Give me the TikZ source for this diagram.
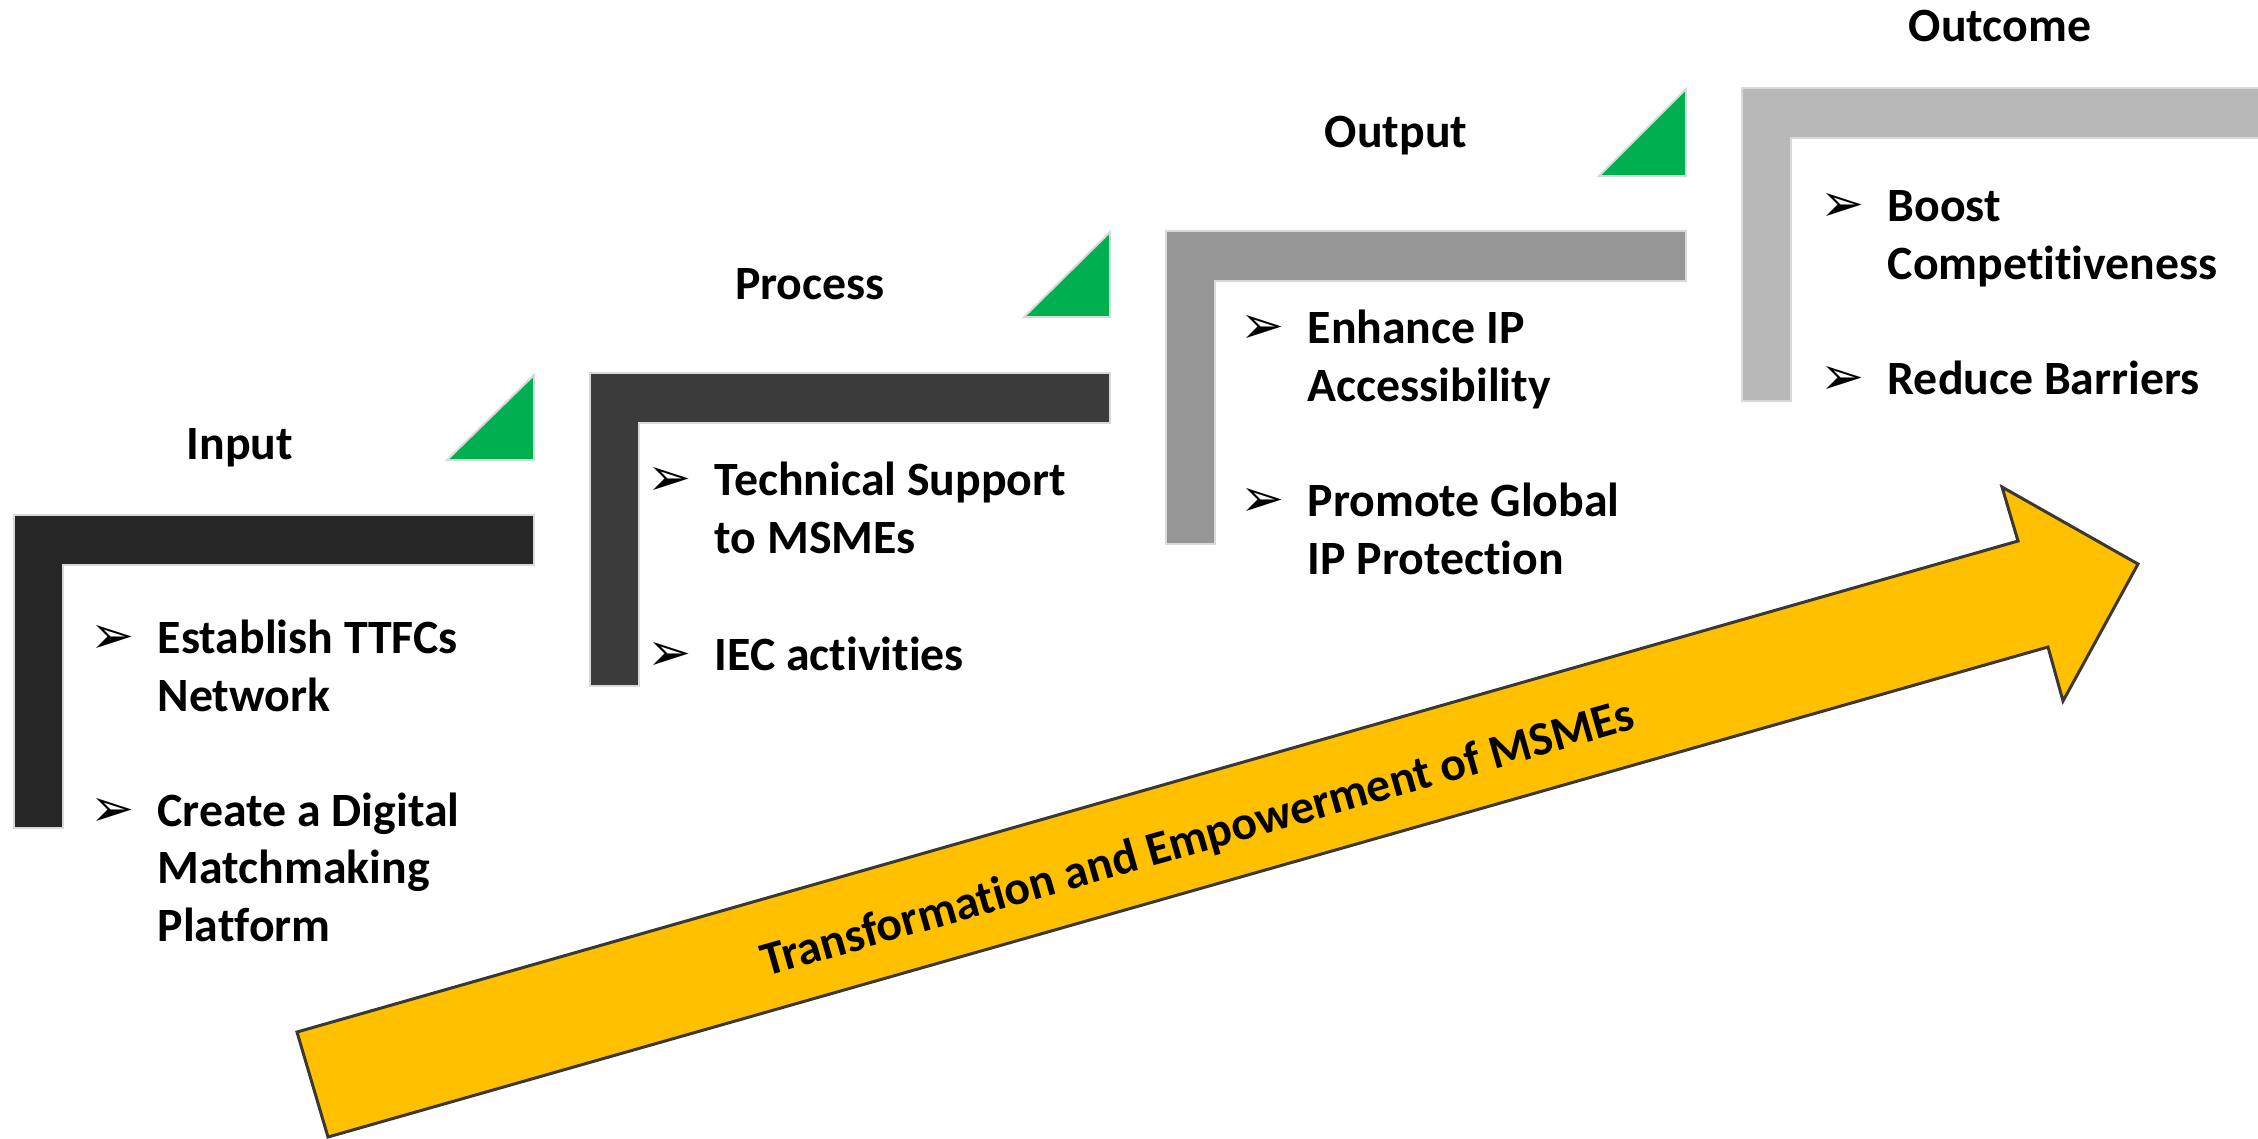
\documentclass[tikz,border=0pt]{standalone}
\usepackage{fontspec}
\setmainfont{Carlito}[Ligatures=NoCommon]
\newfontfamily\dingfont{DejaVu Sans}
\usetikzlibrary{positioning,calc}

\definecolor{inshade}{HTML}{262626}
\definecolor{prshade}{HTML}{3B3B3B}
\definecolor{otshade}{HTML}{969696}
\definecolor{ocshade}{HTML}{B8B8B8}
\definecolor{edgegray}{HTML}{D9D9D9}
\definecolor{markgreen}{HTML}{00B050}
\definecolor{flowgold}{HTML}{FFC000}
\definecolor{flowedge}{HTML}{3A3831}

\tikzstyle{lbar}=[draw=edgegray, line width=0.2mm]
\tikzstyle{tri}=[fill=markgreen, draw=edgegray, line width=0.2mm]
\tikzstyle{steplbl}=[anchor=base, inner sep=0pt, font=\bfseries\fontsize{13.6}{16.3}\selectfont]
\tikzstyle{item}=[anchor=base west, inner sep=0pt, align=left, font=\bfseries\fontsize{13.6}{16.3}\selectfont]
\tikzstyle{bul}=[anchor=base east, inner sep=0pt, font=\dingfont\fontsize{15}{15}\selectfont]
\tikzstyle{flow}=[fill=flowgold, draw=flowedge, line width=0.3mm, line join=miter]

\begin{document}
\begin{tikzpicture}[x=0.1mm, y=-0.1mm]

\useasboundingbox (0,0) rectangle (2258,1138);
\clip (0,0) rectangle (2258,1138);

% step corners
\coordinate (inc) at (14,515);
\coordinate (prc) at (590,373);
\coordinate (otc) at (1166,231);
\coordinate (occ) at (1742,88);

% L bars
\draw[lbar, fill=inshade] (inc) -- ++(520,0) -- ++(0,50) -- ++(-471,0) -- ++(0,263) -- ++(-49,0) -- cycle;
\draw[lbar, fill=prshade] (prc) -- ++(520,0) -- ++(0,50) -- ++(-471,0) -- ++(0,263) -- ++(-49,0) -- cycle;
\draw[lbar, fill=otshade] (otc) -- ++(520,0) -- ++(0,50) -- ++(-471,0) -- ++(0,263) -- ++(-49,0) -- cycle;
\draw[lbar, fill=ocshade] (occ) -- ++(520,0) -- ++(0,50) -- ++(-471,0) -- ++(0,263) -- ++(-49,0) -- cycle;

% green corner marks
\draw[tri] (447,460) -- (534,460) -- (534,375) -- cycle;
\draw[tri] (1024,317) -- (1110,317) -- (1110,232) -- cycle;
\draw[tri] (1599,176) -- (1686,176) -- (1686,89) -- cycle;

% headings
\node (inlbl) [steplbl] at (240,459) {Input};
\node (prlbl) [steplbl] at (810,299) {Process};
\node (otlbl) [steplbl] at (1396,147) {Output};
\node (oclbl) [steplbl] at (2000,41) {Outcome};

% Input items (anchored at last baseline)
\node (in1) [item] at (157,711) {Establish TTFCs\\Network};
\node (in2) [item] at (157,941) {Create a Digital\\Matchmaking\\Platform};
\node (in1b) [bul] at ($(in1.base west)+(-22,-57.5)$) {➢};
\node (in2b) [bul] at ($(in2.base west)+(-22,-115)$) {➢};

% Process items
\node (pr1) [item] at (714,553) {Technical Support\\to MSMEs};
\node (pr2) [item] at (714,670) {IEC activities};
\node (pr1b) [bul] at ($(pr1.base west)+(-22,-57.5)$) {➢};
\node (pr2b) [bul, left=2.2mm of pr2.base west, anchor=base east] {➢};

% Output items
\node (ot1) [item] at (1307,401) {Enhance IP\\Accessibility};
\node (ot2) [item] at (1307,574) {Promote Global\\IP Protection};
\node (ot1b) [bul] at ($(ot1.base west)+(-22,-57.5)$) {➢};
\node (ot2b) [bul] at ($(ot2.base west)+(-22,-57.5)$) {➢};

% Outcome items
\node (oc1) [item] at (1887,279) {Boost\\Competitiveness};
\node (oc2) [item] at (1887,394) {Reduce Barriers};
\node (oc1b) [bul] at ($(oc1.base west)+(-22,-57.5)$) {➢};
\node (oc2b) [bul, left=2.2mm of oc2.base west, anchor=base east] {➢};

% big arrow
\draw[flow] (297,1032) -- (2018,541) -- (2002,487) -- (2138,564) -- (2063,701) -- (2048,647) -- (328,1137) -- cycle;
\node (flowtxt) [rotate=15.92, inner sep=0pt, font=\bfseries\fontsize{13.6}{16.3}\selectfont] at (1198,840) {Transformation and Empowerment of MSMEs};

\end{tikzpicture}
\end{document}
